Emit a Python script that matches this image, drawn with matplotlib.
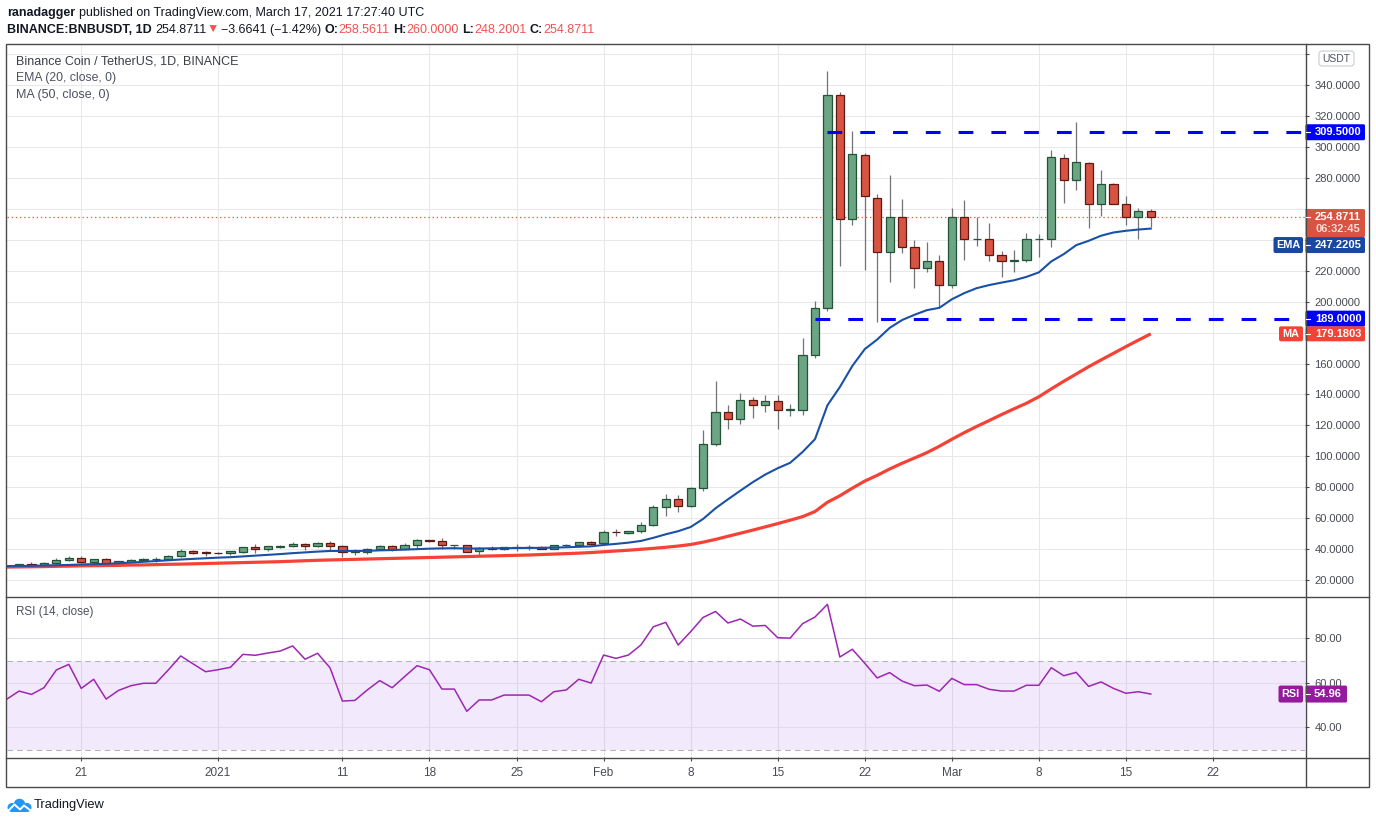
import matplotlib
matplotlib.use('Agg')
import matplotlib.pyplot as plt
import matplotlib.dates as mdates
from matplotlib.patches import Rectangle, FancyBboxPatch, Circle
from matplotlib import font_manager as fm
import pandas as pd

names = {f.name for f in fm.fontManager.ttflist}
FONT = 'Liberation Sans' if 'Liberation Sans' in names else 'DejaVu Sans'
plt.rcParams['font.family'] = [FONT, 'DejaVu Sans']
plt.rcParams['lines.scale_dashes'] = False

# ---------------- data ----------------
dates = pd.date_range('2020-12-15', '2021-03-17', freq='D')

opens = [29.4, 29.0, 30.4, 29.5, 31.0, 33.0, 34.3, 31.4, 33.5, 30.7, 31.9, 32.8, 33.5, 33.4, 35.3, 38.9, 38.3,
         37.7, 37.2, 38.1, 41.5, 40.4, 41.1, 41.7, 43.5, 41.7, 44.1, 41.9, 38.1, 38.1, 39.8, 42.2, 40.4, 42.6,
         46.0, 45.2, 42.6, 42.6, 38.5, 40.6, 40.4, 41.1, 41.3, 41.3, 40.4, 42.4, 42.4, 44.5,
         43.9, 51.2, 50.6, 51.5, 55.4, 67.3, 72.7, 67.7, 79.6, 107.7, 128.9, 124.3, 136.7, 133.4, 136.0, 130.0,
         130.2, 165.8, 195.7, 333.3, 253.1, 295.0, 267.3, 231.8, 254.4, 235.0, 221.9, 226.0,
         210.5, 255.0, 240.2, 240.6, 229.9, 226.0, 226.6, 240.2, 240.6, 293.1, 278.9, 289.9, 263.4, 276.3,
         263.4, 254.4, 258.5611]
closes = [29.0, 30.3, 29.5, 31.2, 33.1, 34.4, 31.5, 33.5, 30.7, 32.2, 33.1, 33.5, 33.8, 35.5, 38.9, 37.8, 37.3,
          37.5, 38.5, 41.3, 40.4, 41.7, 42.2, 43.5, 42.0, 44.1, 42.0, 38.1, 38.5, 40.0, 42.2, 40.4, 42.6, 46.0,
          45.0, 42.6, 42.7, 38.1, 40.6, 40.4, 41.3, 41.3, 41.4, 40.4, 42.6, 42.6, 44.5, 43.5,
          51.0, 50.8, 51.8, 55.6, 67.3, 72.7, 67.7, 79.6, 107.7, 128.9, 124.3, 136.7, 133.4, 136.0, 130.2, 130.4,
          165.8, 195.7, 333.3, 253.1, 295.7, 268.2, 231.8, 255.0, 235.0, 221.9, 226.0, 210.5,
          255.0, 240.2, 240.6, 229.9, 226.2, 226.6, 240.2, 240.6, 293.8, 278.9, 290.5, 263.4, 276.3, 263.4,
          255.0, 258.9, 254.8711]
highs = [29.8, 30.5, 31.8, 31.5, 34.4, 35.7, 35.7, 33.8, 34.0, 32.4, 33.8, 34.0, 35.2, 36.0, 40.4, 39.2, 38.5,
         38.2, 39.0, 41.5, 43.5, 41.8, 42.8, 44.7, 43.9, 44.5, 45.3, 42.8, 40.0, 40.6, 42.6, 42.8, 43.9, 46.3,
         46.2, 47.1, 42.8, 42.8, 41.1, 41.7, 41.5, 43.5, 42.8, 41.9, 42.8, 43.5, 44.8, 45.2,
         52.5, 53.0, 52.0, 57.3, 68.5, 75.9, 75.3, 80.1, 116.8, 148.5, 133.0, 141.2, 138.6, 139.5, 139.5, 133.5,
         176.4, 200.4, 348.8, 335.3, 310.3, 296.3, 269.9, 281.7, 266.2, 239.8, 238.7, 230.1,
         260.4, 265.6, 255.0, 250.7, 232.7, 233.3, 244.3, 243.6, 297.8, 295.7, 315.9, 290.5, 284.9, 277.0,
         268.2, 260.4, 260.0]
lows = [28.8, 28.8, 29.1, 29.3, 30.6, 32.4, 31.0, 30.0, 30.4, 30.1, 31.4, 32.3, 31.8, 33.0, 34.7, 36.6, 35.8,
        37.0, 36.5, 37.6, 37.8, 38.5, 40.6, 41.1, 39.7, 41.1, 39.7, 34.6, 36.5, 37.0, 39.3, 38.5, 39.8, 40.4,
        44.3, 40.4, 40.0, 38.0, 36.1, 39.3, 39.6, 39.1, 39.3, 39.8, 40.0, 41.1, 41.5, 42.8,
        43.2, 48.8, 49.8, 50.5, 55.0, 61.2, 63.8, 67.0, 77.4, 106.5, 117.4, 120.7, 124.8, 128.7, 117.4, 126.0,
        126.7, 163.3, 194.0, 223.2, 249.7, 220.6, 186.6, 212.9, 231.4, 209.0, 219.3, 196.3,
        209.0, 227.1, 236.1, 226.0, 215.7, 219.3, 225.4, 229.0, 235.5, 263.6, 272.2, 247.7, 255.5, 263.0,
        249.7, 240.4, 248.2001]
ema20 = [29.0, 29.1, 29.2, 29.4, 29.6, 29.8, 30.1, 30.3, 30.5, 30.9, 31.3, 31.8, 32.3, 32.8, 33.3, 33.7, 34.1,
         34.5, 34.8, 35.3, 35.8, 36.3, 36.8, 37.4, 37.9, 38.4, 38.8, 38.8, 38.8, 38.9, 39.2, 39.4, 39.7, 40.0,
         40.3, 40.5, 40.6, 40.4, 40.4, 40.5, 40.6, 40.7, 40.8, 40.8, 41.0, 41.2, 41.5, 41.8,
         42.7, 43.4, 44.2, 45.3, 47.3, 49.6, 51.6, 54.3, 59.5, 66.4, 72.2, 77.8, 83.3, 88.2, 92.3, 95.8,
         102.8, 111.1, 133.0, 144.8, 158.4, 169.3, 175.5, 183.0, 188.1, 191.5, 194.5, 196.0,
         201.5, 205.5, 208.7, 210.7, 212.3, 213.8, 216.0, 218.9, 226.0, 230.7, 236.5, 239.3, 242.6, 244.7,
         245.8, 246.6, 247.2205]
ma50 = [28.4, 28.5, 28.6, 28.7, 28.9, 29.0, 29.2, 29.3, 29.4, 29.5, 29.7, 29.8, 30.0, 30.2, 30.3, 30.5, 30.7,
        30.9, 31.1, 31.3, 31.5, 31.7, 31.9, 32.2, 32.5, 32.8, 33.0, 33.2, 33.4, 33.6, 33.8, 34.0, 34.2, 34.4,
        34.6, 34.8, 35.0, 35.2, 35.4, 35.6, 35.8, 36.0, 36.2, 36.5, 36.8, 37.1, 37.4, 37.8,
        38.3, 38.8, 39.3, 39.9, 40.5, 41.2, 42.0, 43.0, 44.5, 46.3, 48.3, 50.3, 52.3, 54.4, 56.5, 58.7,
        61.0, 64.3, 70.3, 74.5, 79.4, 84.0, 87.7, 91.8, 95.5, 98.9, 102.4, 106.5,
        111.0, 115.3, 119.3, 123.1, 127.0, 130.7, 134.3, 138.5, 143.6, 148.5, 153.2, 157.9, 162.3, 166.6,
        170.9, 175.1, 179.1803]
rsi14 = [52.6, 56.3, 54.8, 57.8, 65.8, 68.3, 57.5, 61.6, 52.7, 56.6, 58.7, 59.8, 59.8, 65.8, 72.1, 68.5, 65.0,
         65.9, 67.0, 72.8, 72.4, 73.4, 74.3, 76.6, 70.6, 73.3, 66.8, 51.8, 52.1, 56.8, 61.0, 57.8, 62.8, 67.7,
         65.9, 57.2, 57.2, 47.2, 52.3, 52.3, 54.5, 54.5, 54.5, 51.5, 56.0, 56.8, 61.6, 59.9,
         72.5, 71.0, 72.5, 77.0, 85.2, 87.2, 77.0, 83.0, 89.4, 92.1, 86.9, 88.7, 85.5, 85.8, 80.3, 80.1,
         86.6, 89.6, 95.3, 71.6, 75.1, 68.8, 62.2, 64.6, 60.8, 58.7, 59.0, 56.2,
         62.0, 59.2, 59.2, 57.1, 56.3, 56.3, 58.9, 58.9, 66.8, 63.2, 64.7, 58.4, 60.4, 57.5,
         55.3, 56.0, 54.96]

resistance = 309.5
support = 189.0
resistance_start = '2021-02-19'
support_start = '2021-02-18'
last_price = 254.8711

tick_dates = ['2020-12-21', '2021-01-01', '2021-01-11', '2021-01-18', '2021-01-25', '2021-02-01',
              '2021-02-08', '2021-02-15', '2021-02-22', '2021-03-01', '2021-03-08', '2021-03-15', '2021-03-22']
tick_labels = ['21', '2021', '11', '18', '25', 'Feb', '8', '15', '22', 'Mar', '8', '15', '22']
price_ticks = list(range(20, 361, 20))
price_hidden = [240, 360]          # labels fully covered by the axis boxes in the reference
rsi_ticks = [40, 60, 80]

# ---------------- figure ----------------
W, H = 1376, 823
fig = plt.figure(figsize=(W / 100, H / 100), dpi=100)
fig.patch.set_facecolor('white')


def rect(l, t, r, b):
    return [l / W, 1 - b / H, (r - l) / W, (b - t) / H]


ax = fig.add_axes(rect(7, 45, 1305, 596))
axr = fig.add_axes(rect(7, 597, 1305, 757), sharex=ax)

xs = mdates.date2num(dates.to_pydatetime())
ref = mdates.date2num(pd.Timestamp('2020-12-21').to_pydatetime())
xmin, xmax = ref - 5.97, ref + 98.4

GRID = '#e8e8e8'
AXC = '#4a4a4a'
LBL = '#474a52'
GREEN, GREEN_E = '#6ba583', '#225437'
RED, RED_E = '#d75442', '#5b1a13'
WICK = '#737375'
EMA_C = '#1a50a6'
MA_C = '#f44336'
RSI_C = '#9c27b0'

# candles
for x, o, h, l, c in zip(xs, opens, highs, lows, closes):
    up = c >= o
    ax.vlines(x, l, h, color=WICK, lw=0.9, zorder=2)
    ax.bar(x, max(abs(c - o), 0.3), bottom=min(o, c), width=0.66,
           color=GREEN if up else RED, edgecolor=GREEN_E if up else RED_E, linewidth=0.9, zorder=3)

ax.plot(xs, ma50, color=MA_C, lw=2.3, zorder=4, solid_capstyle='butt')
ax.plot(xs, ema20, color=EMA_C, lw=1.5, zorder=4)

rs = mdates.date2num(pd.Timestamp(resistance_start).to_pydatetime())
ss = mdates.date2num(pd.Timestamp(support_start).to_pydatetime())
ax.plot([rs, xmax + 5], [resistance, resistance], color='#0000ff', lw=2.2, ls=(0, (10.6, 13.0)), zorder=5)
ax.plot([ss, xmax + 5], [support, support], color='#0000ff', lw=2.2, ls=(0, (10.6, 13.0)), zorder=5)
ax.axhline(last_price, color='#e0604c', lw=0.9, ls=(0, (1, 2)), zorder=1.5)

ax.set_xlim(xmin, xmax)
ax.set_ylim(9.7, 365.9)
ax.yaxis.tick_right()
ax.set_yticks(price_ticks)
ax.set_yticklabels(['' if v in price_hidden else f'{v:.4f}' for v in price_ticks])
tick_x = mdates.date2num([pd.Timestamp(d).to_pydatetime() for d in tick_dates])
ax.set_xticks(tick_x)
ax.tick_params(axis='x', bottom=False, labelbottom=False)
ax.tick_params(axis='y', colors=AXC, labelcolor=LBL, length=2.9, width=0.8, pad=4, labelsize=8)
ax.grid(True, color=GRID, lw=0.75)
ax.set_axisbelow(True)
for s in ax.spines.values():
    s.set_visible(False)

# RSI
axr.axhspan(30, 70, color='#8f2ee8', alpha=0.1, lw=0, zorder=1)
for v in rsi_ticks:
    axr.axhline(v, color='#e2dbe8', lw=0.75, zorder=1.2)
axr.axhline(70, color='#b2b5be', lw=0.8, ls=(0, (4, 3)), zorder=1.3)
axr.axhline(30, color='#b2b5be', lw=0.8, ls=(0, (4, 3)), zorder=1.3)
axr.plot(xs, rsi14, color=RSI_C, lw=1.1, zorder=3)
axr.set_ylim(26.65, 98.6)
axr.yaxis.tick_right()
axr.set_yticks(rsi_ticks)
axr.set_yticklabels([f'{v:.2f}' for v in rsi_ticks])
axr.set_xticks(tick_x)
axr.set_xticklabels(tick_labels)
axr.tick_params(axis='y', colors=AXC, labelcolor=LBL, length=2.9, width=0.8, pad=4, labelsize=8)
axr.tick_params(axis='x', colors=AXC, labelcolor=LBL, length=2.9, width=0.8, pad=4.3, labelsize=8.5)
axr.grid(True, axis='x', color=GRID, lw=0.75, zorder=1.1)
axr.set_axisbelow(True)
for s in axr.spines.values():
    s.set_visible(False)
axr.set_xlim(xmin, xmax)

# ---------------- overlay in pixel coordinates ----------------
ov = fig.add_axes([0, 0, 1, 1], zorder=20)
ov.set_xlim(0, W)
ov.set_ylim(H, 0)
ov.axis('off')
renderer = fig.canvas.get_renderer()

ov.add_patch(Rectangle((6, 44), 1363, 743, fill=False, ec=AXC, lw=1.0))
ov.plot([6, 1369], [596.5, 596.5], color=AXC, lw=1.0)
ov.plot([6, 1369], [757.5, 757.5], color=AXC, lw=1.0)
ov.plot([1305.5, 1305.5], [44, 787], color=AXC, lw=1.0)


def seg_text(segs, x0, yc, target_w, base=9.0):
    def draw(fs):
        objs, x = [], x0
        for s, col, wt, sp in segs:
            x += sp * 0.386 * fs
            t = ov.text(x, yc, s, color=col, fontsize=fs, fontweight=wt, ha='left', va='center')
            x += t.get_window_extent(renderer).width
            objs.append(t)
        return objs, x - x0
    objs, w = draw(base)
    for o in objs:
        o.remove()
    draw(base * target_w / w)


DARK = '#131722'
VRED = '#ef5350'
seg_text([('ranadagger', DARK, 'bold', 0),
          ('published on TradingView.com, March 17, 2021 17:27:40 UTC', DARK, 'normal', 1)], 7, 13, 417)
seg_text([('BINANCE:BNBUSDT, 1D', DARK, 'bold', 0), ('254.8711', DARK, 'normal', 1),
          ('\u25bc', VRED, 'normal', 0), ('\u22123.6641 (\u22121.42%)', DARK, 'normal', 0.6),
          ('O:', DARK, 'bold', 1), ('258.5611', VRED, 'normal', 0),
          ('H:', DARK, 'bold', 1), ('260.0000', VRED, 'normal', 0),
          ('L:', DARK, 'bold', 1), ('248.2001', VRED, 'normal', 0),
          ('C:', DARK, 'bold', 1), ('254.8711', VRED, 'normal', 0)], 7, 29.5, 587)
seg_text([('Binance Coin / TetherUS, 1D, BINANCE', '#3a3e48', 'normal', 0)], 15.5, 61, 223)
seg_text([('EMA (20, close, 0)', '#4c525e', 'normal', 0)], 15.5, 78, 100)
seg_text([('MA (50, close, 0)', '#4c525e', 'normal', 0)], 15.5, 94.5, 94)
seg_text([('RSI (14, close)', '#4c525e', 'normal', 0)], 15.5, 612.5, 77)
seg_text([('TradingView', DARK, 'normal', 0)], 33.5, 805, 71.5)


def ypx(axis, v):
    return H - axis.transData.transform((xmin, v))[1]


def vbox(yc, color, text, h=16, x0=1305.5, x1=1365, fs=8):
    ov.add_patch(FancyBboxPatch((x0, yc - h / 2), x1 - x0, h, boxstyle='round,pad=0,rounding_size=1.5',
                                fc=color, ec='none'))
    ov.plot([1306, 1310], [yc, yc], color='white', lw=0.8)
    ov.text(1315, yc, text, color='white', fontsize=fs, fontweight='bold', ha='left', va='center')


def tag(yc, color, text, x0, x1=1303, h=15):
    ov.add_patch(FancyBboxPatch((x0, yc - h / 2), x1 - x0, h, boxstyle='round,pad=0,rounding_size=2',
                                fc=color, ec='none'))
    ov.text((x0 + x1) / 2, yc, text, color='white', fontsize=7.8, fontweight='bold', ha='center', va='center')


# USDT box
ov.add_patch(FancyBboxPatch((1319, 51), 35, 15, boxstyle='round,pad=0,rounding_size=3', fc='white',
                            ec='#c8cbd3', lw=0.8))
ov.text(1336.5, 58.7, 'USDT', color='#4c525e', fontsize=7.5, ha='center', va='center')

vbox(ypx(ax, resistance), '#0000ff', f'{resistance:.4f}')
vbox(ypx(ax, support), '#0000ff', f'{support:.4f}')

yp = ypx(ax, last_price)
ptop = yp - 7.7
# the 260 label shows only above the last-price box
for lab, val in zip(ax.get_yticklabels(), price_ticks):
    if val == 260:
        clip = Rectangle((0, 0), W, H - ptop, transform=None)
        lab.set_clip_path(clip)
ov.add_patch(FancyBboxPatch((1305.5, ptop), 59.5, 28, boxstyle='round,pad=0,rounding_size=1.5',
                            fc=RED, ec='none'))
ov.plot([1306, 1310], [yp, yp], color='white', lw=0.8)
ov.text(1315, yp, f'{last_price:.4f}', color='white', fontsize=8, fontweight='bold', ha='left', va='center')
ov.text(1315, yp + 12.5, '06:32:45', color='#fbd9d3', fontsize=8, fontweight='bold', ha='left', va='center')

ye = max(ypx(ax, ema20[-1]), ptop + 28 + 8)
vbox(ye, '#1848a0', f'{ema20[-1]:.4f}', h=16)
tag(ye, '#1848a0', 'EMA', 1273.5, h=16)

ym = ypx(ax, ma50[-1])
vbox(ym, MA_C, f'{ma50[-1]:.4f}', h=15)
tag(ym, MA_C, 'MA', 1279)

yr = ypx(axr, rsi14[-1])
ov.add_patch(FancyBboxPatch((1305.5, yr - 8.5), 41.5, 17, boxstyle='round,pad=0,rounding_size=1.5',
                            fc='#941a9e', ec='none'))
ov.plot([1306, 1310], [yr, yr], color='white', lw=0.8)
ov.text(1328, yr, f'{rsi14[-1]:.2f}', color='white', fontsize=8, fontweight='bold', ha='center', va='center')
tag(yr, '#941a9e', 'RSI', 1278.5, h=17)

# TradingView logo
LB = '#2196f3'
for (cx, cy, r) in [(12, 807.5, 4.5), (19.5, 804.5, 5.8), (27, 807.5, 4.5)]:
    ov.add_patch(Circle((cx, cy), r, fc=LB, ec='none'))
ov.add_patch(Rectangle((12, 806), 15, 6, fc=LB, ec='none'))
ov.plot([8.5, 14.5, 20, 24, 30], [810.5, 804.5, 809.5, 805.5, 810], color='white', lw=1.4)

fig.savefig('out.png', dpi=100, facecolor='white')
